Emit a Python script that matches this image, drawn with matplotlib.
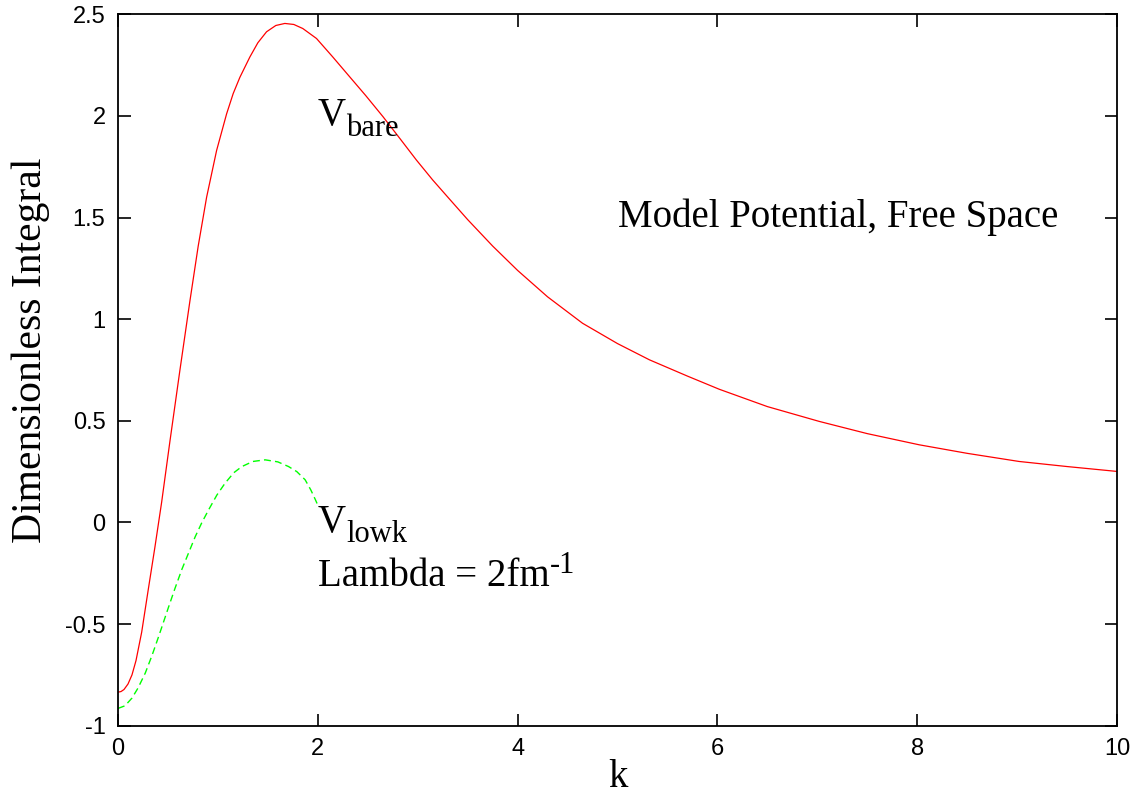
import matplotlib
matplotlib.use("Agg")
import matplotlib.pyplot as plt

# V_bare (red, solid)
k_bare = [0, 0.03, 0.06, 0.1, 0.14, 0.18, 0.237, 0.303, 0.37, 0.437, 0.52, 0.62,
          0.72, 0.803, 0.887, 0.987, 1.087, 1.153, 1.22, 1.32, 1.40, 1.487, 1.58,
          1.67, 1.76, 1.85, 1.987, 2.15, 2.32, 2.48, 2.653, 2.82, 2.987, 3.15,
          3.32, 3.5, 3.75, 4.0, 4.3, 4.65, 5.0, 5.32, 5.7, 6.02, 6.5, 7.02, 7.5,
          8.02, 8.5, 9.02, 9.5, 10.0]
v_bare = [-0.835, -0.832, -0.822, -0.795, -0.75, -0.68, -0.54, -0.33, -0.12, 0.10,
          0.40, 0.75, 1.09, 1.36, 1.60, 1.83, 2.01, 2.11, 2.19, 2.29, 2.36, 2.414,
          2.445, 2.455, 2.45, 2.43, 2.381, 2.29, 2.192, 2.10, 1.996, 1.89, 1.783,
          1.685, 1.59, 1.49, 1.36, 1.24, 1.11, 0.98, 0.88, 0.80, 0.72, 0.655, 0.57,
          0.497, 0.437, 0.382, 0.34, 0.30, 0.275, 0.251]

# V_lowk (green, dashed), Lambda = 2 fm^-1
k_lowk = [0, 0.07, 0.14, 0.2, 0.273, 0.34, 0.407, 0.507, 0.57, 0.64, 0.773, 0.84,
          0.907, 0.99, 1.073, 1.16, 1.24, 1.35, 1.473, 1.6, 1.707, 1.79, 1.873,
          1.93, 1.973, 2.0]
v_lowk = [-0.915, -0.902, -0.864, -0.815, -0.741, -0.655, -0.561, -0.415, -0.325,
          -0.23, -0.07, 0.0, 0.062, 0.135, 0.194, 0.245, 0.275, 0.30, 0.308, 0.298,
          0.275, 0.25, 0.21, 0.16, 0.115, 0.085]

x_ticks = [0, 2, 4, 6, 8, 10]
y_ticks = [-1, -0.5, 0, 0.5, 1, 1.5, 2, 2.5]
y_tick_labels = ["-1", "-0.5", "0", "0.5", "1", "1.5", "2", "2.5"]

serif = ["Liberation Serif", "DejaVu Serif"]
sans = ["Liberation Sans", "DejaVu Sans"]

fig = plt.figure(figsize=(11.35, 7.96), dpi=100)
ax = fig.add_axes([118 / 1135, 1 - 725.7 / 796, 999 / 1135, 711.4 / 796])

ax.plot(k_bare, v_bare, color="#ff0000", lw=0.9)
ax.plot(k_lowk, v_lowk, color="#00ff00", lw=1.0, dashes=(5, 3))

ax.set_xlim(0, 10)
ax.set_ylim(-1, 2.5)
ax.set_xticks(x_ticks)
ax.set_xticklabels([str(t) for t in x_ticks])
ax.set_yticks(y_ticks)
ax.set_yticklabels(y_tick_labels)
ax.tick_params(direction="in", length=9, width=1.2, top=True, right=True,
               labelsize=17, pad=9)
for lab in ax.get_xticklabels() + ax.get_yticklabels():
    lab.set_family(sans)
for s in ax.spines.values():
    s.set_linewidth(1.3)

ax.set_xlabel("k", family=serif, fontsize=28)
ax.xaxis.set_label_coords(0.5, -0.047)
ax.set_ylabel("Dimensionless Integral", family=serif, fontsize=30)
ax.yaxis.set_label_coords(-0.068, 0.528)

FS = 28
SUB = 22


def label_with_script(x, y, main, script, dy):
    t = ax.text(x, y, main, family=serif, fontsize=FS, ha="left", va="center")
    ax.annotate(script, xy=(1, 0), xycoords=t, xytext=(0.5, dy),
                textcoords="offset points", family=serif, fontsize=SUB,
                ha="left", va="bottom")


label_with_script(2.0, 2.0, "V", "bare", -6)
label_with_script(2.0, 0.0, "V", "lowk", -6)
label_with_script(2.0, -0.265, "Lambda = 2fm", "-1", 11)
ax.text(5.0, 1.5, "Model Potential, Free Space", family=serif, fontsize=FS,
        ha="left", va="center")

fig.savefig("out.png", dpi=100)
